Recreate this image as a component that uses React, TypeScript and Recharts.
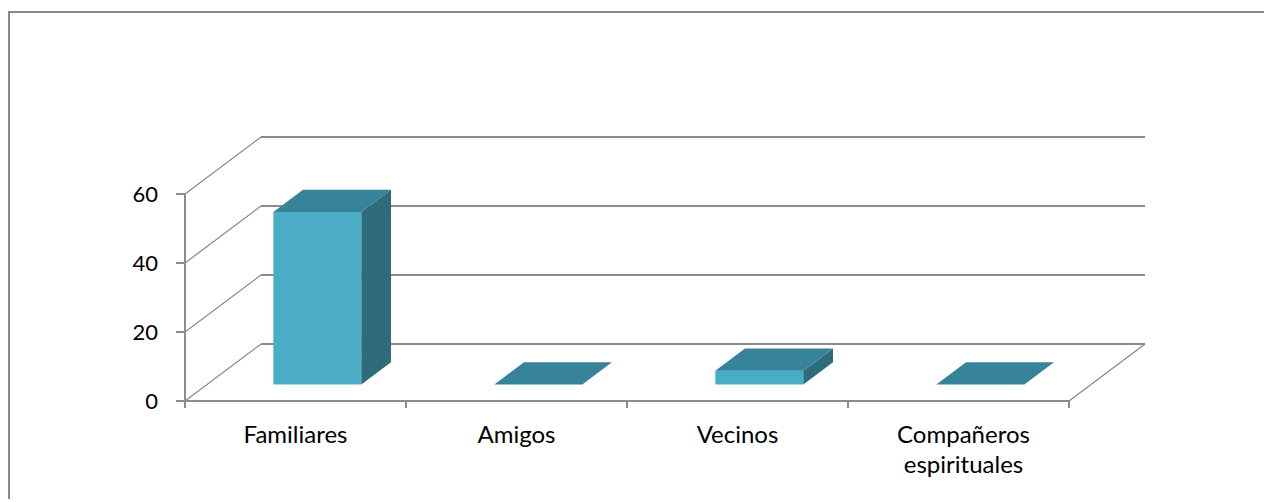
import React from 'react';
import { BarChart, Bar, XAxis, YAxis, CartesianGrid } from 'recharts';

const categories = ['Familiares', 'Amigos', 'Vecinos', 'Compañeros espirituales'];
const values = [50, 0, 4, 0];
const yTicks = [0, 20, 40, 60];

const data = categories.map((name, i) => ({ name, value: values[i] }));

// 3D depth offsets
const DX = 76;
const DY = -57;
const F1 = 0.29;
const F2 = 0.68;
const FRONT = '#4BACC6';
const TOP = '#37849A';
const SIDE = '#2E6C7B';
const GRID = '#8c8c8c';
const FONT = 'Lato, "Open Sans", sans-serif';
const FS_Y = 22;
const FS_X = 24;
const WRAP_CHARS = 14;

const gridLine = (props: any) => {
  const { x1, y1, x2, index } = props;
  const n = categories.length;
  const step = (x2 - x1) / n;
  return (
    <g key={`g-${index}`}>
      <line x1={x1} y1={y1} x2={x1 + DX} y2={y1 + DY} stroke={GRID} strokeWidth={1.3} />
      <line x1={x1 + DX} y1={y1 + DY} x2={x2 + DX} y2={y1 + DY} stroke={GRID} strokeWidth={2} />
      {index === 0 && (
        <g>
          <line x1={x2} y1={y1} x2={x2 + DX} y2={y1 + DY} stroke={GRID} strokeWidth={1.3} />
          {Array.from({ length: n + 1 }).map((_, i) => (
            <line key={i} x1={x1 + i * step} y1={y1} x2={x1 + i * step} y2={y1 + 7} stroke={GRID} strokeWidth={2} />
          ))}
        </g>
      )}
    </g>
  );
};

const Box3D = (props: any) => {
  const { x, y, width, height } = props;
  const h = Math.max(0, height || 0);
  const x0 = x + F1 * DX;
  const xr = x0 + width;
  const yB = y + h + F1 * DY;
  const yT = yB - h;
  const ddx = (F2 - F1) * DX;
  const ddy = (F2 - F1) * DY;
  return (
    <g>
      {h > 0.5 && <rect x={x0} y={yT} width={width} height={h} fill={FRONT} />}
      {h > 0.5 && (
        <polygon
          points={`${xr},${yT} ${xr + ddx},${yT + ddy} ${xr + ddx},${yB + ddy} ${xr},${yB}`}
          fill={SIDE}
        />
      )}
      <polygon
        points={`${x0},${yT} ${xr},${yT} ${xr + ddx},${yT + ddy} ${x0 + ddx},${yT + ddy}`}
        fill={TOP}
      />
    </g>
  );
};

const XTick = (props: any) => {
  const { x, y, payload } = props;
  const label = String(payload.value);
  const lines = label.length > WRAP_CHARS ? label.split(' ') : [label];
  const cx = x + (lines.length > 1 ? 5 : 0);
  return (
    <text x={cx} y={y + 42} textAnchor="middle" fill="#000" fontSize={FS_X} fontFamily={FONT}>
      {lines.map((ln, i) => (
        <tspan key={i} x={cx} dy={i === 0 ? 0 : 30}>
          {ln}
        </tspan>
      ))}
    </text>
  );
};

export default function App() {
  return (
    <div style={{ position: 'relative', top: 3, width: 1264, height: 491, overflow: 'hidden' }}>
      <div
        style={{
          width: 1300,
          height: 520,
          borderLeft: '2px solid #888',
          borderTop: '2px solid #888',
          boxSizing: 'border-box',
          fontFamily: FONT,
        }}
      >
        <BarChart
          width={1262}
          height={489}
          data={data}
          margin={{ top: 181, right: 203, bottom: 41, left: 115 }}
          barCategoryGap="30%"
        >
          <CartesianGrid vertical={false} horizontal={gridLine} />
          <XAxis
            dataKey="name"
            interval={0}
            axisLine={{ stroke: GRID, strokeWidth: 2 }}
            tickLine={false}
            tickSize={0}
            tickMargin={0}
            height={60}
            tick={<XTick />}
          />
          <YAxis
            domain={[0, 60]}
            ticks={yTicks}
            width={60}
            axisLine={{ stroke: GRID, strokeWidth: 2 }}
            tickLine={{ stroke: GRID, strokeWidth: 2 }}
            tickSize={9}
            tickMargin={18}
            tick={{ fill: '#000', fontSize: FS_Y, fontFamily: FONT }}
          />
          <Bar dataKey="value" shape={Box3D} isAnimationActive={false} />
        </BarChart>
      </div>
    </div>
  );
}
